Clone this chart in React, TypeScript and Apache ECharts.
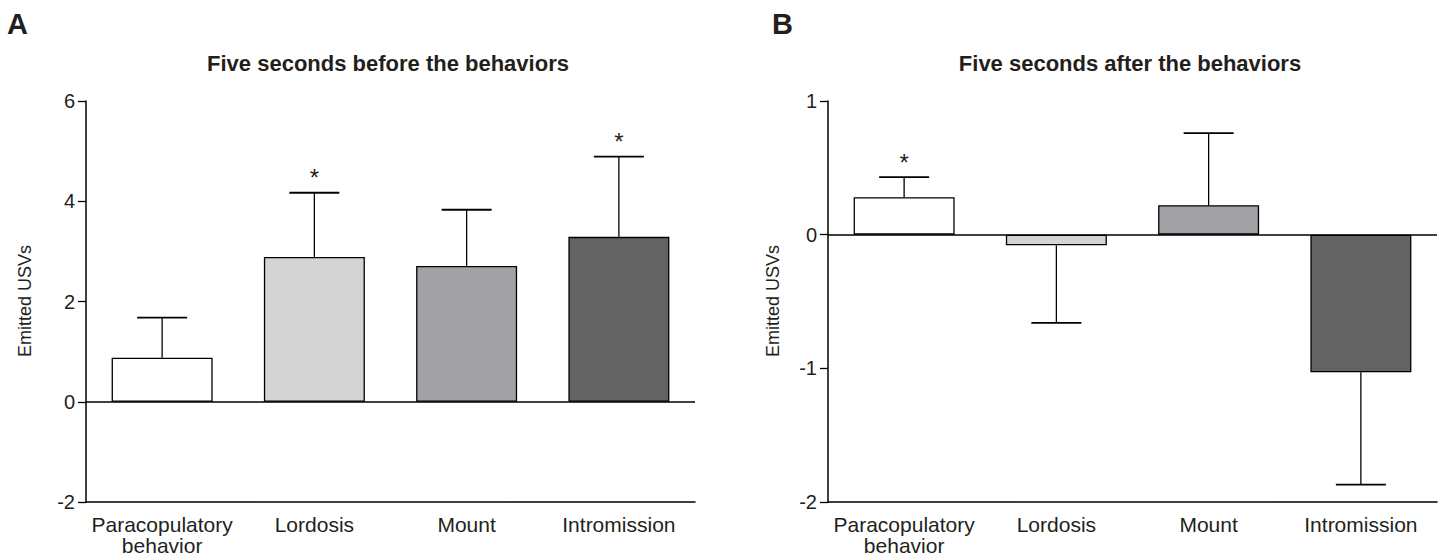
import React, { useEffect, useRef } from "react";
import * as echarts from "echarts";

const categories = ["Paracopulatory\nbehavior", "Lordosis", "Mount", "Intromission"];
const barColors = ["#ffffff", "#d4d4d4", "#a2a1a6", "#636363"];

const beforeMeans = [0.88, 2.89, 2.71, 3.29];
const beforeErrEnds = [1.68, 4.17, 3.83, 4.89];
const beforeSig = ["", "*", "", "*"];

const afterMeans = [0.28, -0.08, 0.22, -1.03];
const afterErrEnds = [0.43, -0.66, 0.76, -1.87];
const afterSig = ["*", "", "", ""];

const panelTitles = ["Five seconds before the behaviors", "Five seconds after the behaviors"];
const panelLetters = ["A", "B"];
const yAxisName = "Emitted USVs";

const FONT = '"Liberation Sans", Arial, Helvetica, sans-serif';
const TEXT = "#231f20";

function makeErrorSeries(idx: number, means: number[], ends: number[], sig: string[]) {
  return {
    type: "custom",
    xAxisIndex: idx,
    yAxisIndex: idx,
    z: 5,
    clip: false,
    data: means.map((m, i) => [i, m, ends[i]]),
    renderItem: (params: any, api: any) => {
      const i = api.value(0);
      const mean = api.value(1);
      const end = api.value(2);
      const p0 = api.coord([i, mean]);
      const p1 = api.coord([i, end]);
      const half = 25;
      const children: any[] = [
        {
          type: "line",
          shape: { x1: p0[0], y1: p0[1], x2: p1[0], y2: p1[1] },
          style: { stroke: "#000", lineWidth: 1.3 },
        },
        {
          type: "line",
          shape: { x1: p1[0] - half, y1: p1[1], x2: p1[0] + half, y2: p1[1] },
          style: { stroke: "#000", lineWidth: 1.8 },
        },
      ];
      const s = sig[params.dataIndex];
      if (s) {
        children.push({
          type: "text",
          x: p1[0],
          y: p1[1] - 15,
          style: {
            text: s,
            fill: TEXT,
            font: `24px ${FONT}`,
            align: "center",
            verticalAlign: "middle",
          },
        });
      }
      return { type: "group", children };
    },
  };
}

function makeBarSeries(idx: number, means: number[]) {
  return {
    type: "bar",
    xAxisIndex: idx,
    yAxisIndex: idx,
    barWidth: 101,
    data: means.map((v, i) => ({
      value: v,
      itemStyle: { color: barColors[i], borderColor: "#000", borderWidth: 1.3 },
    })),
    markLine: {
      silent: true,
      symbol: ["none", "none"],
      label: { show: false },
      lineStyle: { color: "#000", width: 1.5, type: "solid" },
      data: [{ yAxis: 0 }],
    },
  };
}

export default function App() {
  const ref = useRef<HTMLDivElement>(null);

  useEffect(() => {
    if (!ref.current) return;
    const chart = echarts.init(ref.current, undefined, { renderer: "svg" });

    const xAxisCommon = {
      type: "category",
      data: categories,
      position: "bottom",
      axisLine: { onZero: false, lineStyle: { color: "#000", width: 1.5 } },
      axisTick: { alignWithLabel: true, length: 7, lineStyle: { color: "#000", width: 1.3 } },
      axisLabel: {
        interval: 0,
        margin: 12,
        fontSize: 21,
        lineHeight: 21,
        color: TEXT,
        fontFamily: FONT,
      },
      splitLine: { show: false },
    };
    const yAxisCommon = {
      type: "value",
      axisLine: { show: true, lineStyle: { color: "#000", width: 1.5 } },
      axisTick: { show: true, length: 8, lineStyle: { color: "#000", width: 1.3 } },
      axisLabel: { margin: 11, fontSize: 20, color: TEXT, fontFamily: FONT },
      splitLine: { show: false },
    };

    const graphics: any[] = [];
    const letterX = [7, 772];
    const titleX = [388, 1130];
    const nameX = [25, 773];
    panelTitles.forEach((t, i) => {
      graphics.push({
        type: "text",
        x: titleX[i],
        y: 63,
        style: {
          text: t,
          fill: TEXT,
          font: `bold 22px ${FONT}`,
          align: "center",
          verticalAlign: "middle",
        },
      });
      graphics.push({
        type: "text",
        x: letterX[i],
        y: 24,
        style: {
          text: panelLetters[i],
          fill: TEXT,
          font: `bold 29px ${FONT}`,
          align: "left",
          verticalAlign: "middle",
        },
      });
      graphics.push({
        type: "text",
        x: nameX[i],
        y: 301,
        rotation: Math.PI / 2,
        style: {
          text: yAxisName,
          fill: TEXT,
          font: `18px ${FONT}`,
          align: "center",
          verticalAlign: "middle",
        },
      });
    });

    chart.setOption({
      animation: false,
      backgroundColor: "#ffffff",
      grid: [
        { left: 86, right: 745, top: 101, bottom: 54 },
        { left: 828, right: 3, top: 101, bottom: 54 },
      ],
      xAxis: [
        { ...xAxisCommon, gridIndex: 0 },
        { ...xAxisCommon, gridIndex: 1 },
      ],
      yAxis: [
        { ...yAxisCommon, gridIndex: 0, min: -2, max: 6, interval: 2 },
        { ...yAxisCommon, gridIndex: 1, min: -2, max: 1, interval: 1 },
      ],
      graphic: graphics,
      series: [
        makeBarSeries(0, beforeMeans),
        makeErrorSeries(0, beforeMeans, beforeErrEnds, beforeSig),
        makeBarSeries(1, afterMeans),
        makeErrorSeries(1, afterMeans, afterErrEnds, afterSig),
      ],
    });

    return () => {
      chart.dispose();
    };
  }, []);

  return (
    <div
      ref={ref}
      style={{ position: "absolute", left: 0, top: 0, width: 1440, height: 556 }}
    />
  );
}
